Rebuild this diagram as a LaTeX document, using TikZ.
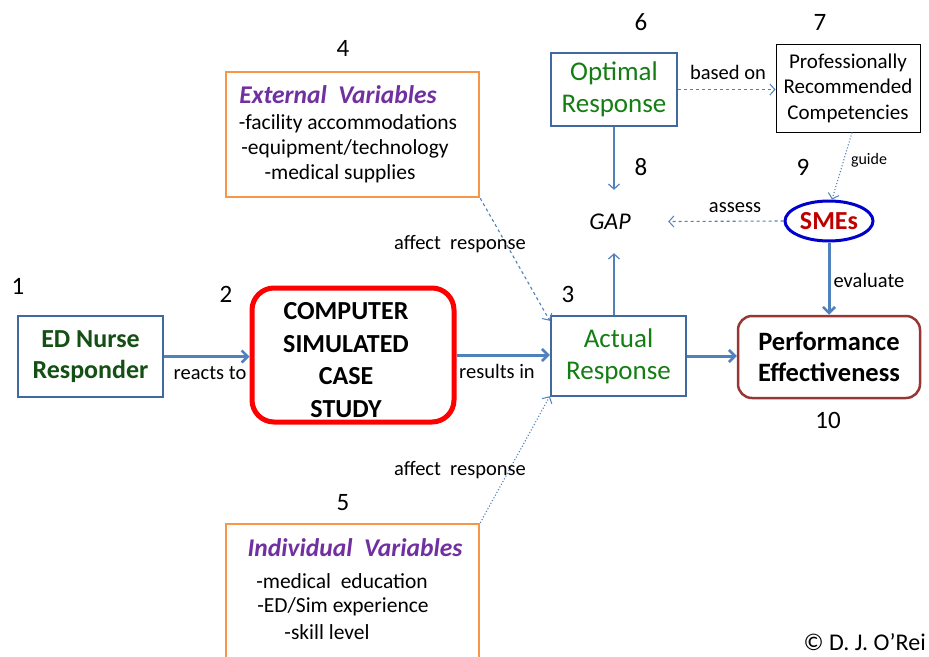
\documentclass[tikz,border=0pt]{standalone}
\usepackage{fontspec}
\setmainfont{Carlito}
\usetikzlibrary{arrows.meta,shapes.geometric}
\definecolor{boxblue}{RGB}{65,105,160}
\definecolor{arrblue}{RGB}{79,129,189}
\definecolor{dkgreen}{RGB}{20,80,20}
\definecolor{midgreen}{RGB}{20,125,20}
\definecolor{perfred}{RGB}{150,55,53}
\definecolor{orangeb}{RGB}{247,150,70}
\definecolor{purp}{RGB}{112,48,160}
\definecolor{smeblue}{RGB}{0,0,204}
\definecolor{smered}{RGB}{192,0,0}
\begin{document}
\begin{tikzpicture}[x=1pt,y=-1pt,
  bluebox/.style={draw=boxblue,line width=2.5pt,inner sep=0pt,align=center},
  lbl/.style={font=\fontsize{20.5}{24}\selectfont,inner sep=0pt},
  num/.style={font=\fontsize{25}{28}\selectfont,inner sep=0pt},
  orbox/.style={draw=orangeb,line width=2.5pt,inner sep=0pt},
  vartitle/.style={font=\fontsize{25.5}{28}\selectfont\bfseries\itshape,text=purp,inner sep=0pt},
  varline/.style={font=\fontsize{21.5}{24}\selectfont,inner sep=0pt},
  thickarr/.style={draw=arrblue,line width=3pt,-{Straight Barb[length=6pt,width=12pt,line width=2.5pt]}},
  thinarr/.style={draw=arrblue,line width=1.5pt,-{Straight Barb[length=5pt,width=11pt,line width=1.2pt]}},
  dasharr/.style={draw=arrblue,line width=1.1pt,dashed,-{Straight Barb[length=5pt,width=11pt,line width=1pt]}},
  dotarr/.style={draw=arrblue,line width=1.1pt,dotted,-{Straight Barb[length=5pt,width=11pt,line width=1pt]}}
]
\clip (0,0) rectangle (929,656);
\fill[white] (0,0) rectangle (929,656);

% main nodes
\node[bluebox,minimum width=145pt,minimum height=81pt,text=dkgreen,font=\fontsize{26}{31}\selectfont\bfseries] (ed) at (90.5,356.5) {ED Nurse\\Responder};
\node[draw=red,line width=5pt,rounded corners=22pt,minimum width=202pt,minimum height=134pt,inner sep=0pt] (csc) at (353,355) {};
\node[inner sep=0pt,align=center,font=\fontsize{26}{32.5}\selectfont\bfseries] (csctext) at (346,360) {COMPUTER\\SIMULATED\\CASE\\STUDY};
\node[bluebox,minimum width=135pt,minimum height=80pt,text=midgreen,font=\fontsize{27}{32}\selectfont] (act) at (618.5,356) {Actual\\Response};
\node[draw=perfred,line width=2.5pt,rounded corners=14pt,minimum width=182pt,minimum height=82pt,inner sep=0pt,align=center,font=\fontsize{26.5}{31}\selectfont\bfseries] (perf) at (829,357) {Performance\\Effectiveness};
\node[bluebox,minimum width=126pt,minimum height=73pt,text=midgreen,font=\fontsize{27}{32}\selectfont] (opt) at (614,89.5) {Optimal\\Response};
\node[draw=black,line width=1pt,minimum width=144pt,minimum height=88pt,inner sep=0pt,align=center,font=\fontsize{21}{25.5}\selectfont] (prof) at (848,88) {Professionally\\Recommended\\Competencies};
\node[minimum width=116pt,minimum height=63pt,inner sep=0pt,font=\fontsize{24}{28}\selectfont\itshape] (gap) at (610,221.5) {GAP};
\node[draw=smeblue,line width=3pt,ellipse,minimum width=88pt,minimum height=40pt,inner sep=0pt,text=smered,font=\fontsize{26}{28}\selectfont\bfseries] (sme) at (829,221) {SMEs};

% variable boxes
\node[orbox,minimum width=253pt,minimum height=125pt] (ext) at (352.5,134.5) {};
\node[vartitle] (extt) at (338,95) {External\ \ Variables};
\node[varline] (ext1) at (348,124) {-facility accommodations};
\node[varline] (ext2) at (345,149) {-equipment/technology};
\node[varline] (ext3) at (340,174) {-medical supplies};

\node[orbox,minimum width=253pt,minimum height=160pt] (ind) at (352.5,604) {};
\node[vartitle] (indt) at (355,548) {Individual\ \ Variables};
\node[varline] (ind1) at (342,581) {-medical\ \ education};
\node[varline] (ind2) at (343,607) {-ED/Sim experience};
\node[varline] (ind3) at (327,632) {-skill level};

% numbers
\node[num] (n1) at (18,286) {1};
\node[num] (n2) at (226,294) {2};
\node[num] (n3) at (568,294) {3};
\node[num] (n4) at (343,48) {4};
\node[num] (n5) at (343,503) {5};
\node[num] (n6) at (641,22) {6};
\node[num] (n7) at (820,22) {7};
\node[num] (n8) at (641,167) {8};
\node[num] (n9) at (803,167) {9};
\node[num] (n10) at (828,420) {10};

% connectors
\draw[thickarr] (ed.east) -- (ed.east -| csc.west);
\draw[thickarr] (csc.east) -- (csc.east -| act.west);
\draw[thickarr] (act.east) -- (act.east -| perf.west);
\draw[thickarr] (sme.south) -- (perf.north);
\draw[thinarr] (opt.south) -- (opt.south |- gap.north);
\draw[thinarr] (act.north -| opt.south) -- (opt.south |- gap.south);
\draw[dasharr] (opt.east) -- (opt.east -| prof.west);
\draw[dotarr] ([xshift=4pt]prof.south) -- ([xshift=3pt]sme.north);
\draw[dasharr] (sme.west) -- (gap.east);
\draw[dasharr] (ext.south east) -- ([yshift=-6pt]act.north west);
\draw[dotarr] (ind.north east) -- ([yshift=1pt]act.south west);

% labels
\node[lbl] (l1) at (210,373) {reacts to};
\node[lbl] (l2) at (497,371) {results in};
\node[lbl] (l3) at (728,72) {based on};
\node[lbl,font=\fontsize{16}{18}\selectfont] (l4) at (869,160) {guide};
\node[lbl] (l5) at (735,208) {assess};
\node[lbl] (l6) at (869,280) {evaluate};
\node[lbl] (l7) at (460,244) {affect\ \ response};
\node[lbl] (l8) at (460,470) {affect\ \ response};
\node[font=\fontsize{24}{27}\selectfont,inner sep=0pt,anchor=base east] (copy) at (926,650) {© D. J. O'Rei};
\end{tikzpicture}
\end{document}
